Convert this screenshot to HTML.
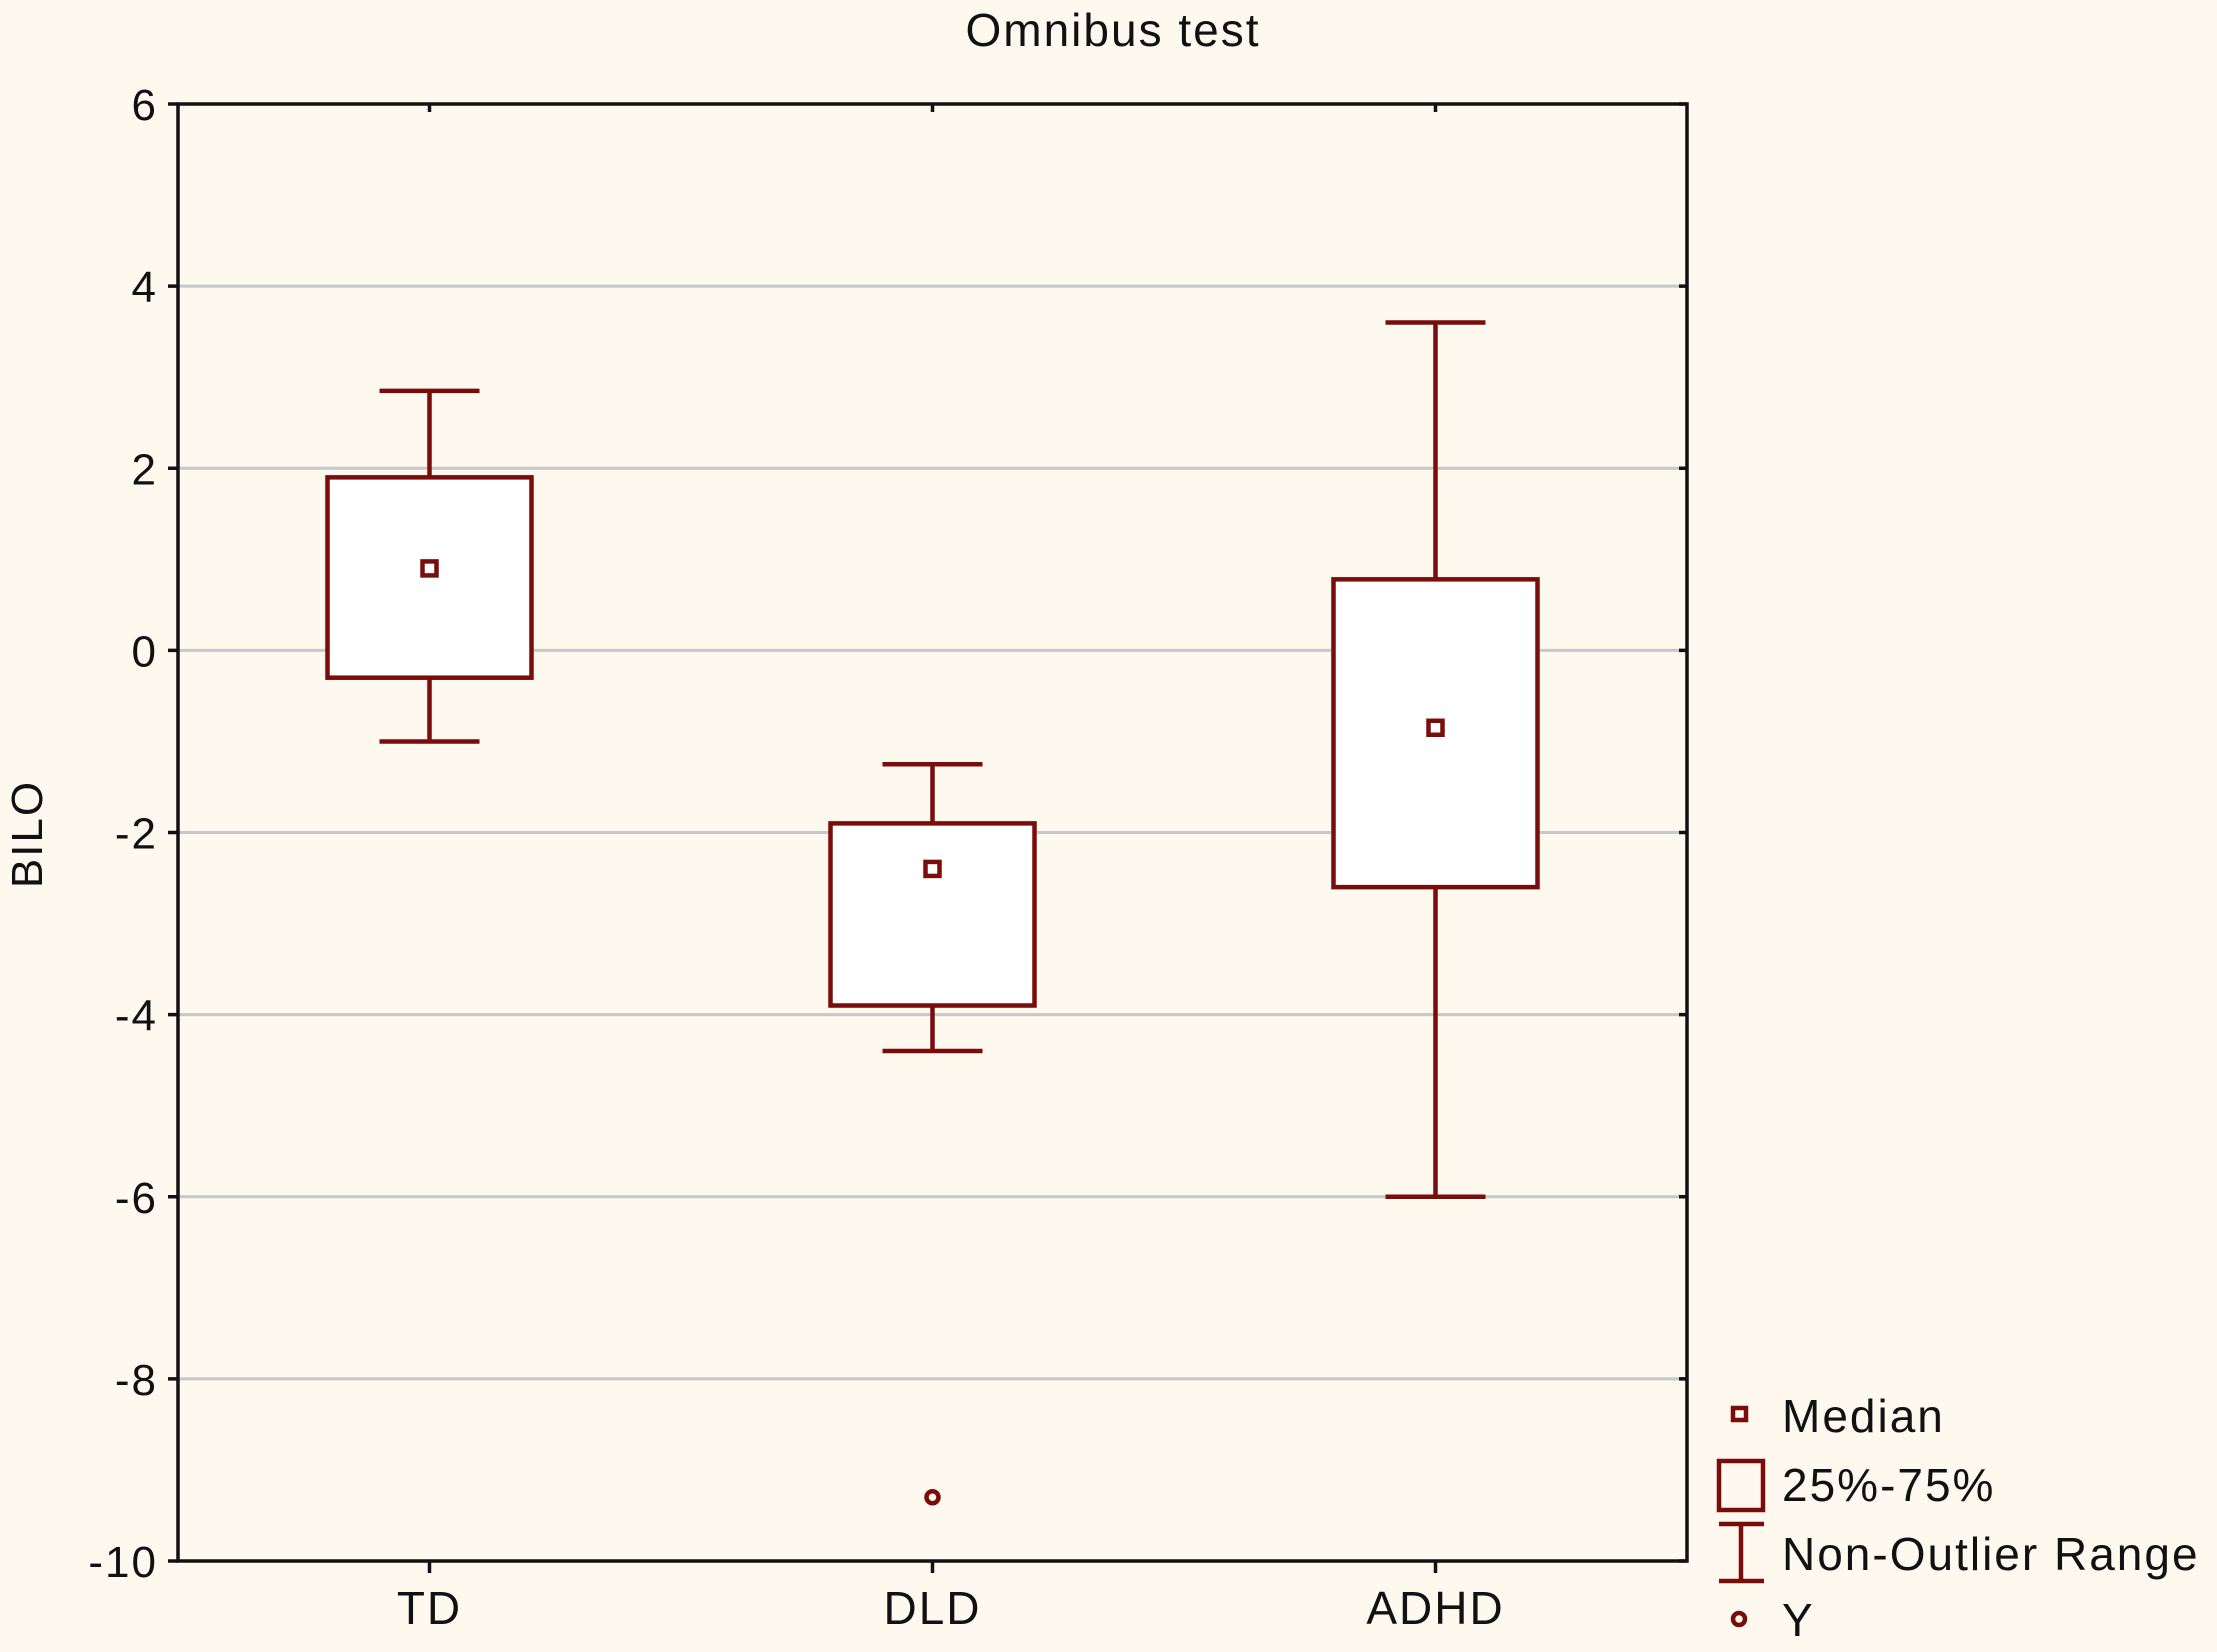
<!DOCTYPE html>
<html><head><meta charset="utf-8"><style>
body{margin:0;background:#fdf9ef;}
svg{display:block;font-family:"Liberation Sans",sans-serif;}
text{letter-spacing:2px;}
</style></head><body>
<svg id="c" width="2217" height="1652" viewBox="0 0 2217 1652">
<rect width="2217" height="1652" fill="#fdf9ef"/>
<text x="1113" y="46" font-size="46" text-anchor="middle" fill="#111">Omnibus test</text>
<text transform="translate(42,834) rotate(-90)" font-size="44" text-anchor="middle" fill="#111">BILO</text>
<g id="grid"></g><g id="boxes"></g>
<rect x="178" y="104" width="1509" height="1457" fill="none" stroke="#111" stroke-width="3.5"/>
<g id="axes"></g>
<g>
<rect x="1733" y="1408" width="13" height="12" fill="none" stroke="#7a0c0c" stroke-width="4.5"/>
<text x="1782" y="1432" font-size="46" fill="#111">Median</text>
<rect x="1719" y="1461" width="44" height="49" fill="none" stroke="#7a0c0c" stroke-width="4.5"/>
<text x="1782" y="1501" font-size="46" fill="#111">25%-75%</text>
<path d="M1719 1524H1764M1741 1524V1581M1719 1581H1764" stroke="#7a0c0c" stroke-width="4.5" fill="none"/>
<text x="1782" y="1570" font-size="46" fill="#111">Non-Outlier Range</text>
<circle cx="1739" cy="1619" r="6" fill="none" stroke="#7a0c0c" stroke-width="4.5"/>
<text x="1782" y="1636" font-size="46" fill="#111">Y</text>
</g>
</svg>
<script>
const categories=["TD","DLD","ADHD"];
const mins=[-1.0,-4.4,-6.0];
const q1s=[-0.3,-3.9,-2.6];
const medians=[0.9,-2.4,-0.85];
const q3s=[1.9,-1.9,0.78];
const maxs=[2.85,-1.25,3.6];
const outlierCats=[1];
const outlierVals=[-9.3];
const yTicks=[6,4,2,0,-2,-4,-6,-8,-10];
const L=178,R=1687,T=104,B=1561,C="#7a0c0c",NS="http://www.w3.org/2000/svg";
const y=v=>T+(6-v)*(B-T)/16;
const x=i=>L+(i+0.5)*(R-L)/categories.length;
function mk(p,t,a){const e=document.createElementNS(NS,t);for(const k in a)e.setAttribute(k,a[k]);document.getElementById(p).appendChild(e);return e;}
yTicks.forEach(v=>{
 if(v!==6&&v!==-10){const g=mk("grid","line",{x1:L,x2:R,y1:y(v),y2:y(v),stroke:"#c8c8c8","stroke-width":3});
 
 }
 const t=mk("axes","line",{x1:L-10,x2:L,y1:y(v),y2:y(v),stroke:"#111","stroke-width":3.5});
 
 
 const t2=mk("axes","line",{x1:R-8,x2:R,y1:y(v),y2:y(v),stroke:"#111","stroke-width":3.5});
 
 
 const l=mk("axes","text",{x:158,y:y(v)+16,"font-size":44,"text-anchor":"end",fill:"#111"});l.textContent=v;
 
 
});
categories.forEach((c,i)=>{
 const cx=x(i);
 const tk=mk("axes","line",{x1:cx,x2:cx,y1:B,y2:B+12,stroke:"#111","stroke-width":3.5});
 
 
 const tt=mk("axes","line",{x1:cx,x2:cx,y1:T,y2:T+8,stroke:"#111","stroke-width":3.5});
 
 
 const l=mk("axes","text",{x:cx,y:1624,"font-size":46,"text-anchor":"middle",fill:"#111"});l.textContent=c;
 
 
 const w=mk("boxes","path",{d:`M${cx-50} ${y(maxs[i])}H${cx+50}M${cx} ${y(maxs[i])}V${y(q3s[i])}M${cx} ${y(q1s[i])}V${y(mins[i])}M${cx-50} ${y(mins[i])}H${cx+50}`,stroke:C,"stroke-width":4.5,fill:"none"});
 
 
 const b=mk("boxes","rect",{x:cx-102,y:y(q3s[i]),width:204,height:y(q1s[i])-y(q3s[i]),fill:"#fff",stroke:C,"stroke-width":4.5});
 
 
 const m=mk("boxes","rect",{x:cx-7,y:y(medians[i])-7,width:14,height:14,fill:"none",stroke:C,"stroke-width":4.5});
 
 
});
outlierCats.forEach((ci,k)=>{
 const o=mk("boxes","circle",{cx:x(ci),cy:y(outlierVals[k]),r:6,fill:"none",stroke:C,"stroke-width":4.5});
 
 
});
</script>
</body></html>
